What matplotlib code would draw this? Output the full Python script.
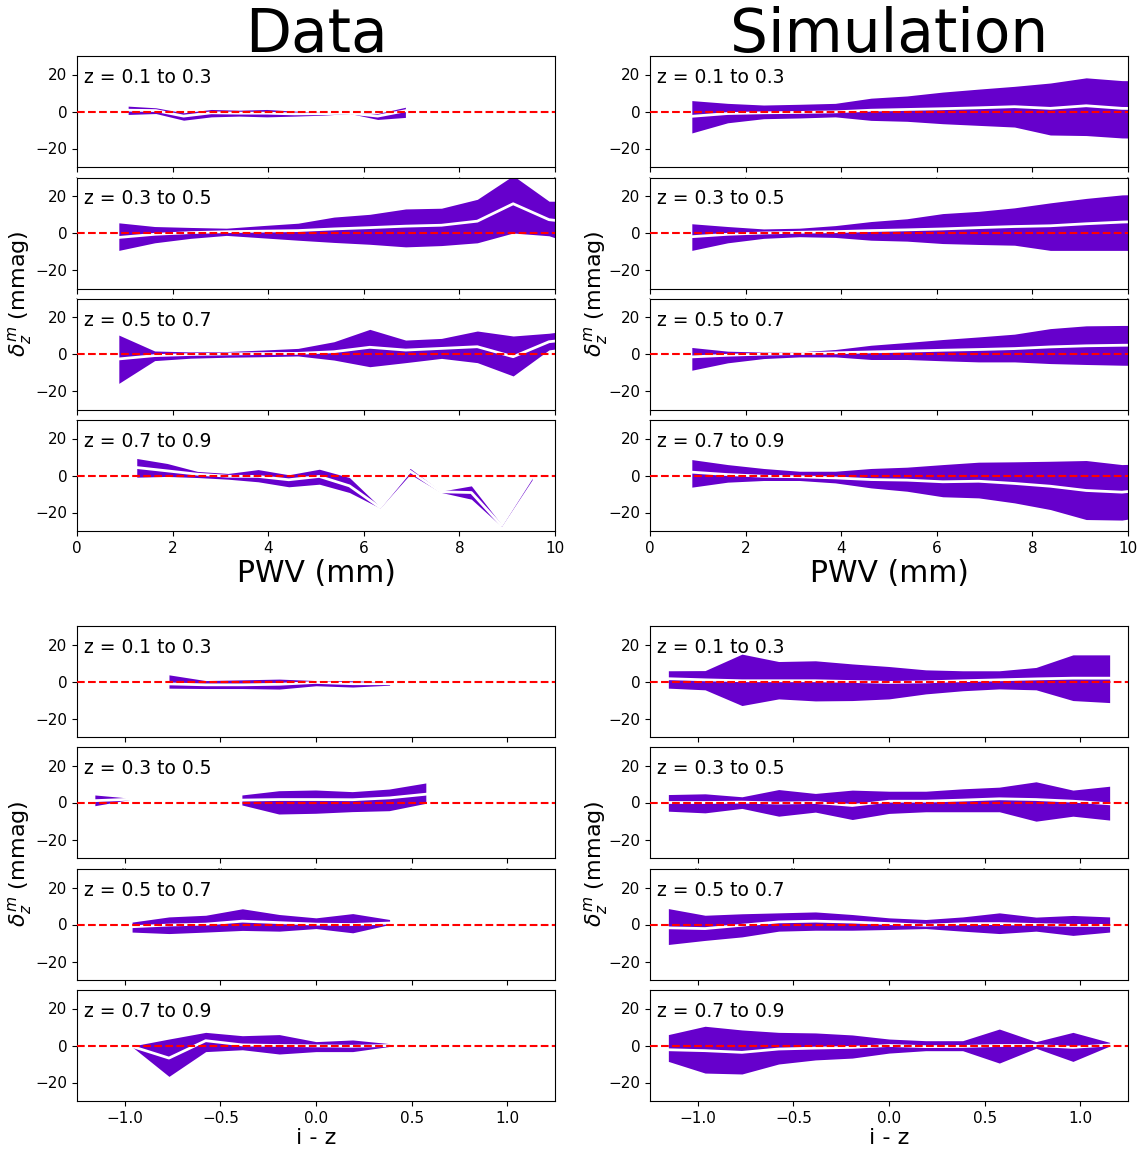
import numpy as np
import matplotlib
matplotlib.use("Agg")
import matplotlib.pyplot as plt

nan = np.nan

# ---------------- data ----------------
z_labels = ["z = 0.1 to 0.3", "z = 0.3 to 0.5", "z = 0.5 to 0.7", "z = 0.7 to 0.9"]

# PWV, Data (x differs per redshift bin)
pwv_data_x = [
    [1.07, 1.65, 2.23, 2.81, 3.39, 3.97, 4.55, 5.13, 5.71, 6.29, 6.87],
    [0.875, 1.625, 2.375, 3.125, 3.875, 4.625, 5.375, 6.125, 6.875, 7.625, 8.375, 9.125, 9.875, 10.625],
    [0.875, 1.625, 2.375, 3.125, 3.875, 4.625, 5.375, 6.125, 6.875, 7.625, 8.375, 9.125, 9.875, 10.625],
    [1.25, 1.886, 2.52, 3.16, 3.79, 4.43, 5.07, 5.70, 6.34, 6.97, 7.61, 8.25, 8.88, 9.52],
]
pwv_data_hi = [
    [2.9, 2.0, -0.7, 1.1, 0.7, 1.1, 0.2, -0.4, -0.7, -1.1, 2.3],
    [5.5, 3.5, 3.0, 2.6, 4.0, 5.3, 8.6, 10.1, 13.0, 13.4, 18.2, 31.0, 17.2, 17.0],
    [10.5, 1.9, 1.4, 1.6, 2.4, 3.3, 6.9, 13.6, 7.8, 8.7, 12.7, 10.0, 11.5, 14.0],
    [9.2, 6.5, 2.2, 1.1, 3.2, 0.4, 3.4, -1.1, -17.0, 3.8, -8.5, -5.6, -26.5, 0.0],
]
pwv_data_mid = [
    [0.7, 0.5, -2.5, -0.7, -0.9, -0.9, -1.3, -1.2, -0.9, -2.5, 0.4],
    [-2.4, -0.7, 0.2, 0.7, 1.0, 1.3, 2.2, 2.9, 3.7, 4.2, 6.4, 15.8, 7.2, 5.0],
    [-2.4, -0.6, 0.0, 0.3, 0.5, 0.6, 1.5, 3.9, 2.4, 3.3, 4.2, -1.2, 6.9, 9.0],
    [4.3, 2.5, 0.7, -0.4, -0.5, -2.3, -0.5, -5.6, -17.3, 2.3, -8.8, -9.2, -27.0, -1.0],
]
pwv_data_lo = [
    [-1.6, -1.1, -4.7, -2.9, -2.5, -2.9, -2.5, -2.0, -1.1, -4.3, -3.2],
    [-9.4, -5.3, -2.9, -1.3, -2.6, -3.9, -5.1, -6.1, -7.5, -6.8, -5.3, 0.0, -1.5, -8.0],
    [-15.6, -3.3, -2.0, -1.5, -1.2, -0.8, -3.0, -6.6, -4.4, -2.1, -4.4, -11.6, 2.5, 5.0],
    [-0.9, -0.5, -1.1, -2.0, -3.4, -6.1, -4.7, -9.2, -17.6, 0.7, -9.1, -12.8, -27.5, -2.4],
]

# PWV, Simulation
pwv_sim_x = [0.875, 1.625, 2.375, 3.125, 3.875, 4.625, 5.375, 6.125, 6.875, 7.625, 8.375, 9.125, 9.875, 10.625]
pwv_sim_hi = [
    [5.9, 4.4, 3.5, 3.9, 4.4, 7.2, 8.4, 10.5, 12.1, 13.6, 15.4, 18.2, 16.7, 16.5],
    [5.0, 3.5, 2.2, 2.6, 4.0, 6.2, 7.7, 10.5, 11.7, 13.6, 16.3, 18.7, 20.6, 21.0],
    [3.8, 1.8, 1.3, 1.4, 2.7, 5.0, 6.5, 8.1, 9.5, 11.0, 14.0, 15.5, 15.7, 15.7],
    [8.6, 5.9, 3.8, 2.3, 2.3, 3.8, 4.5, 5.9, 7.2, 7.4, 7.7, 8.1, 5.9, 6.5],
]
pwv_sim_mid = [
    [-2.6, -1.1, -0.7, -0.5, -0.2, 0.7, 1.1, 1.5, 2.0, 2.6, 1.7, 3.1, 1.7, 1.5],
    [-2.0, -0.7, 0.0, 0.4, 0.7, 1.3, 1.7, 2.2, 2.9, 3.5, 3.9, 5.0, 5.9, 6.5],
    [-1.3, -0.4, 0.2, 0.5, 0.9, 1.4, 1.8, 2.3, 2.7, 3.2, 4.1, 4.7, 5.0, 5.2],
    [1.8, 0.5, -0.4, -0.7, -1.3, -2.2, -2.5, -3.4, -3.1, -4.3, -5.8, -8.1, -9.0, -7.0],
]
pwv_sim_lo = [
    [-11.6, -6.1, -3.9, -3.5, -2.9, -4.8, -5.3, -6.6, -7.5, -8.4, -12.7, -13.0, -14.3, -14.5],
    [-9.4, -5.3, -2.9, -2.0, -2.4, -3.9, -4.4, -5.7, -6.2, -6.6, -9.4, -9.4, -9.4, -9.4],
    [-8.5, -4.5, -2.2, -1.3, -1.3, -2.7, -2.7, -3.4, -4.0, -4.0, -4.9, -5.4, -5.8, -6.0],
    [-6.3, -3.6, -2.7, -2.7, -4.0, -6.7, -8.5, -11.5, -12.1, -14.8, -18.4, -23.8, -24.1, -21.0],
]

# i - z colour bins (shared)
iz_x = [-1.154, -0.962, -0.769, -0.577, -0.385, -0.192, 0.0, 0.192, 0.385, 0.577, 0.769, 0.962, 1.154]

iz_data_hi = [
    [nan, nan, 3.6, 0.5, 0.9, 1.3, 0.5, 0.4, -0.4, nan, nan, nan, nan],
    [3.8, 2.0, nan, nan, 3.8, 6.1, 6.5, 5.6, 7.0, 10.3, nan, nan, nan],
    [nan, 1.3, 4.1, 5.0, 8.5, 5.4, 3.6, 5.9, 2.7, nan, nan, nan, nan],
    [nan, -0.3, 3.5, 7.1, 5.3, 5.9, 2.1, 3.0, 1.0, nan, nan, nan, nan],
]
iz_data_mid = [
    [nan, nan, -1.3, -1.8, -1.8, -1.5, -0.5, -1.2, -1.2, nan, nan, nan, nan],
    [1.0, 1.8, nan, nan, 1.3, 1.6, 1.6, 1.5, 2.5, 4.5, nan, nan, nan],
    [nan, -1.2, -0.3, 0.2, 1.8, 1.0, 0.2, 0.0, 0.8, nan, nan, nan, nan],
    [nan, -0.5, -6.8, 2.6, 0.3, 0.0, -0.2, -0.4, 0.0, nan, nan, nan, nan],
]
iz_data_lo = [
    [nan, nan, -3.6, -3.8, -3.8, -4.1, -2.3, -3.0, -2.0, nan, nan, nan, nan],
    [-2.0, 1.5, nan, nan, -1.6, -6.5, -6.1, -5.2, -4.7, -0.7, nan, nan, nan],
    [nan, -4.1, -4.9, -4.1, -3.2, -3.6, -2.2, -4.5, 0.0, nan, nan, nan, nan],
    [nan, -0.7, -16.7, -3.3, -2.3, -4.6, -3.3, -3.3, -0.5, nan, nan, nan, nan],
]

iz_sim_hi = [
    [5.8, 5.9, 14.8, 10.8, 11.2, 9.5, 8.1, 6.3, 5.8, 5.8, 7.6, 14.4, 14.4],
    [4.3, 4.7, 3.1, 7.0, 4.9, 6.7, 6.1, 6.1, 7.4, 8.3, 11.2, 6.7, 8.8],
    [8.6, 5.0, 5.8, 6.3, 6.8, 5.4, 3.6, 2.7, 4.1, 6.3, 4.0, 4.9, 4.1],
    [5.9, 10.4, 8.4, 7.1, 6.8, 5.7, 3.5, 2.6, 2.6, 8.9, 2.1, 7.1, 1.7],
]
iz_sim_mid = [
    [1.5, 0.9, 0.4, 0.4, 0.4, 0.0, -0.5, -0.2, 0.4, 0.9, 1.4, 1.8, 1.8],
    [0.0, 0.0, 0.2, -0.3, 0.0, -1.6, 0.7, 0.7, 1.3, 2.0, 1.6, 0.7, -0.7],
    [-1.8, -2.2, -0.4, 1.4, 1.8, 1.3, 0.5, -0.4, 0.4, 0.5, 0.0, -0.5, -0.5],
    [-2.3, -2.8, -3.7, -1.9, -1.4, -1.0, 0.0, -0.6, -0.5, 0.0, 0.0, -1.0, 0.3],
]
iz_sim_lo = [
    [-3.6, -4.5, -13.0, -9.4, -10.5, -10.3, -9.4, -6.7, -5.0, -4.0, -4.5, -10.3, -11.4],
    [-4.7, -5.6, -3.2, -7.4, -5.2, -9.2, -5.9, -5.0, -5.0, -5.0, -10.1, -7.4, -9.5],
    [-10.8, -8.6, -6.7, -3.6, -3.1, -3.1, -2.7, -2.2, -3.6, -4.9, -3.6, -5.9, -4.1],
    [-8.6, -14.9, -15.4, -10.0, -7.8, -6.8, -4.1, -2.8, -2.8, -9.5, -1.5, -8.6, -0.3],
]

# ---------------- styling ----------------
band_color = "#6600cc"
W, H = 1146, 1150
fig = plt.figure(figsize=(W / 100, H / 100), dpi=100)


def add_ax(left_px, top_px, w_px=478, h_px=111):
    return fig.add_axes([left_px / W, 1 - (top_px + h_px) / H, w_px / W, h_px / H])


def draw_panel(ax, x, lo, mid, hi, label):
    x = np.asarray(x, float)
    lo = np.asarray(lo, float)
    mid = np.asarray(mid, float)
    hi = np.asarray(hi, float)
    ax.fill_between(x, lo, hi, color=band_color, lw=0, zorder=1)
    ax.plot(x, mid, color="white", lw=2.0, zorder=2)
    ax.axhline(0, color="red", ls="--", lw=1.5, zorder=3)
    ax.set_ylim(-30, 30)
    ax.set_yticks([-20, 0, 20])
    ax.tick_params(axis="both", labelsize=11)
    ax.text(0.015, 0.81, label, transform=ax.transAxes, fontsize=13.5,
            va="center", ha="left")


col_left = [77, 650]
top_rows = [56, 177.5, 299, 420]
bot_rows = [626, 747, 869, 990]

# Top group: PWV
for c in range(2):
    for r in range(4):
        ax = add_ax(col_left[c], top_rows[r])
        if c == 0:
            draw_panel(ax, pwv_data_x[r], pwv_data_lo[r], pwv_data_mid[r], pwv_data_hi[r], z_labels[r])
        else:
            draw_panel(ax, pwv_sim_x, pwv_sim_lo[r], pwv_sim_mid[r], pwv_sim_hi[r], z_labels[r])
        ax.set_xlim(0, 10)
        ax.set_xticks([0, 2, 4, 6, 8, 10])
        if r < 3:
            ax.tick_params(axis="x", labelsize=1.5)
        else:
            ax.set_xlabel("PWV (mm)", fontsize=21.5, labelpad=2)

# Bottom group: i - z
for c in range(2):
    for r in range(4):
        ax = add_ax(col_left[c], bot_rows[r])
        if c == 0:
            draw_panel(ax, iz_x, iz_data_lo[r], iz_data_mid[r], iz_data_hi[r], z_labels[r])
        else:
            draw_panel(ax, iz_x, iz_sim_lo[r], iz_sim_mid[r], iz_sim_hi[r], z_labels[r])
        ax.set_xlim(-1.25, 1.25)
        ax.set_xticks([-1.0, -0.5, 0.0, 0.5, 1.0])
        if r < 3:
            ax.tick_params(axis="x", labelsize=1.5)
        else:
            ax.set_xlabel("i - z", fontsize=16, labelpad=2)

# Column titles
fig.text((77 + 478 / 2) / W, 1 - 52 / H, "Data", ha="center", va="baseline", fontsize=43)
fig.text((650 + 478 / 2) / W, 1 - 52 / H, "Simulation", ha="center", va="baseline", fontsize=43)

# y labels
ylab = r"$\delta_z^m$ (mmag)"
for xpx in [20, 596]:
    for ycen in [(56 + 531) / 2, (626 + 1101) / 2]:
        fig.text(xpx / W, 1 - ycen / H, ylab, rotation=90, ha="center", va="center", fontsize=16)

fig.savefig("out.png", dpi=100)
